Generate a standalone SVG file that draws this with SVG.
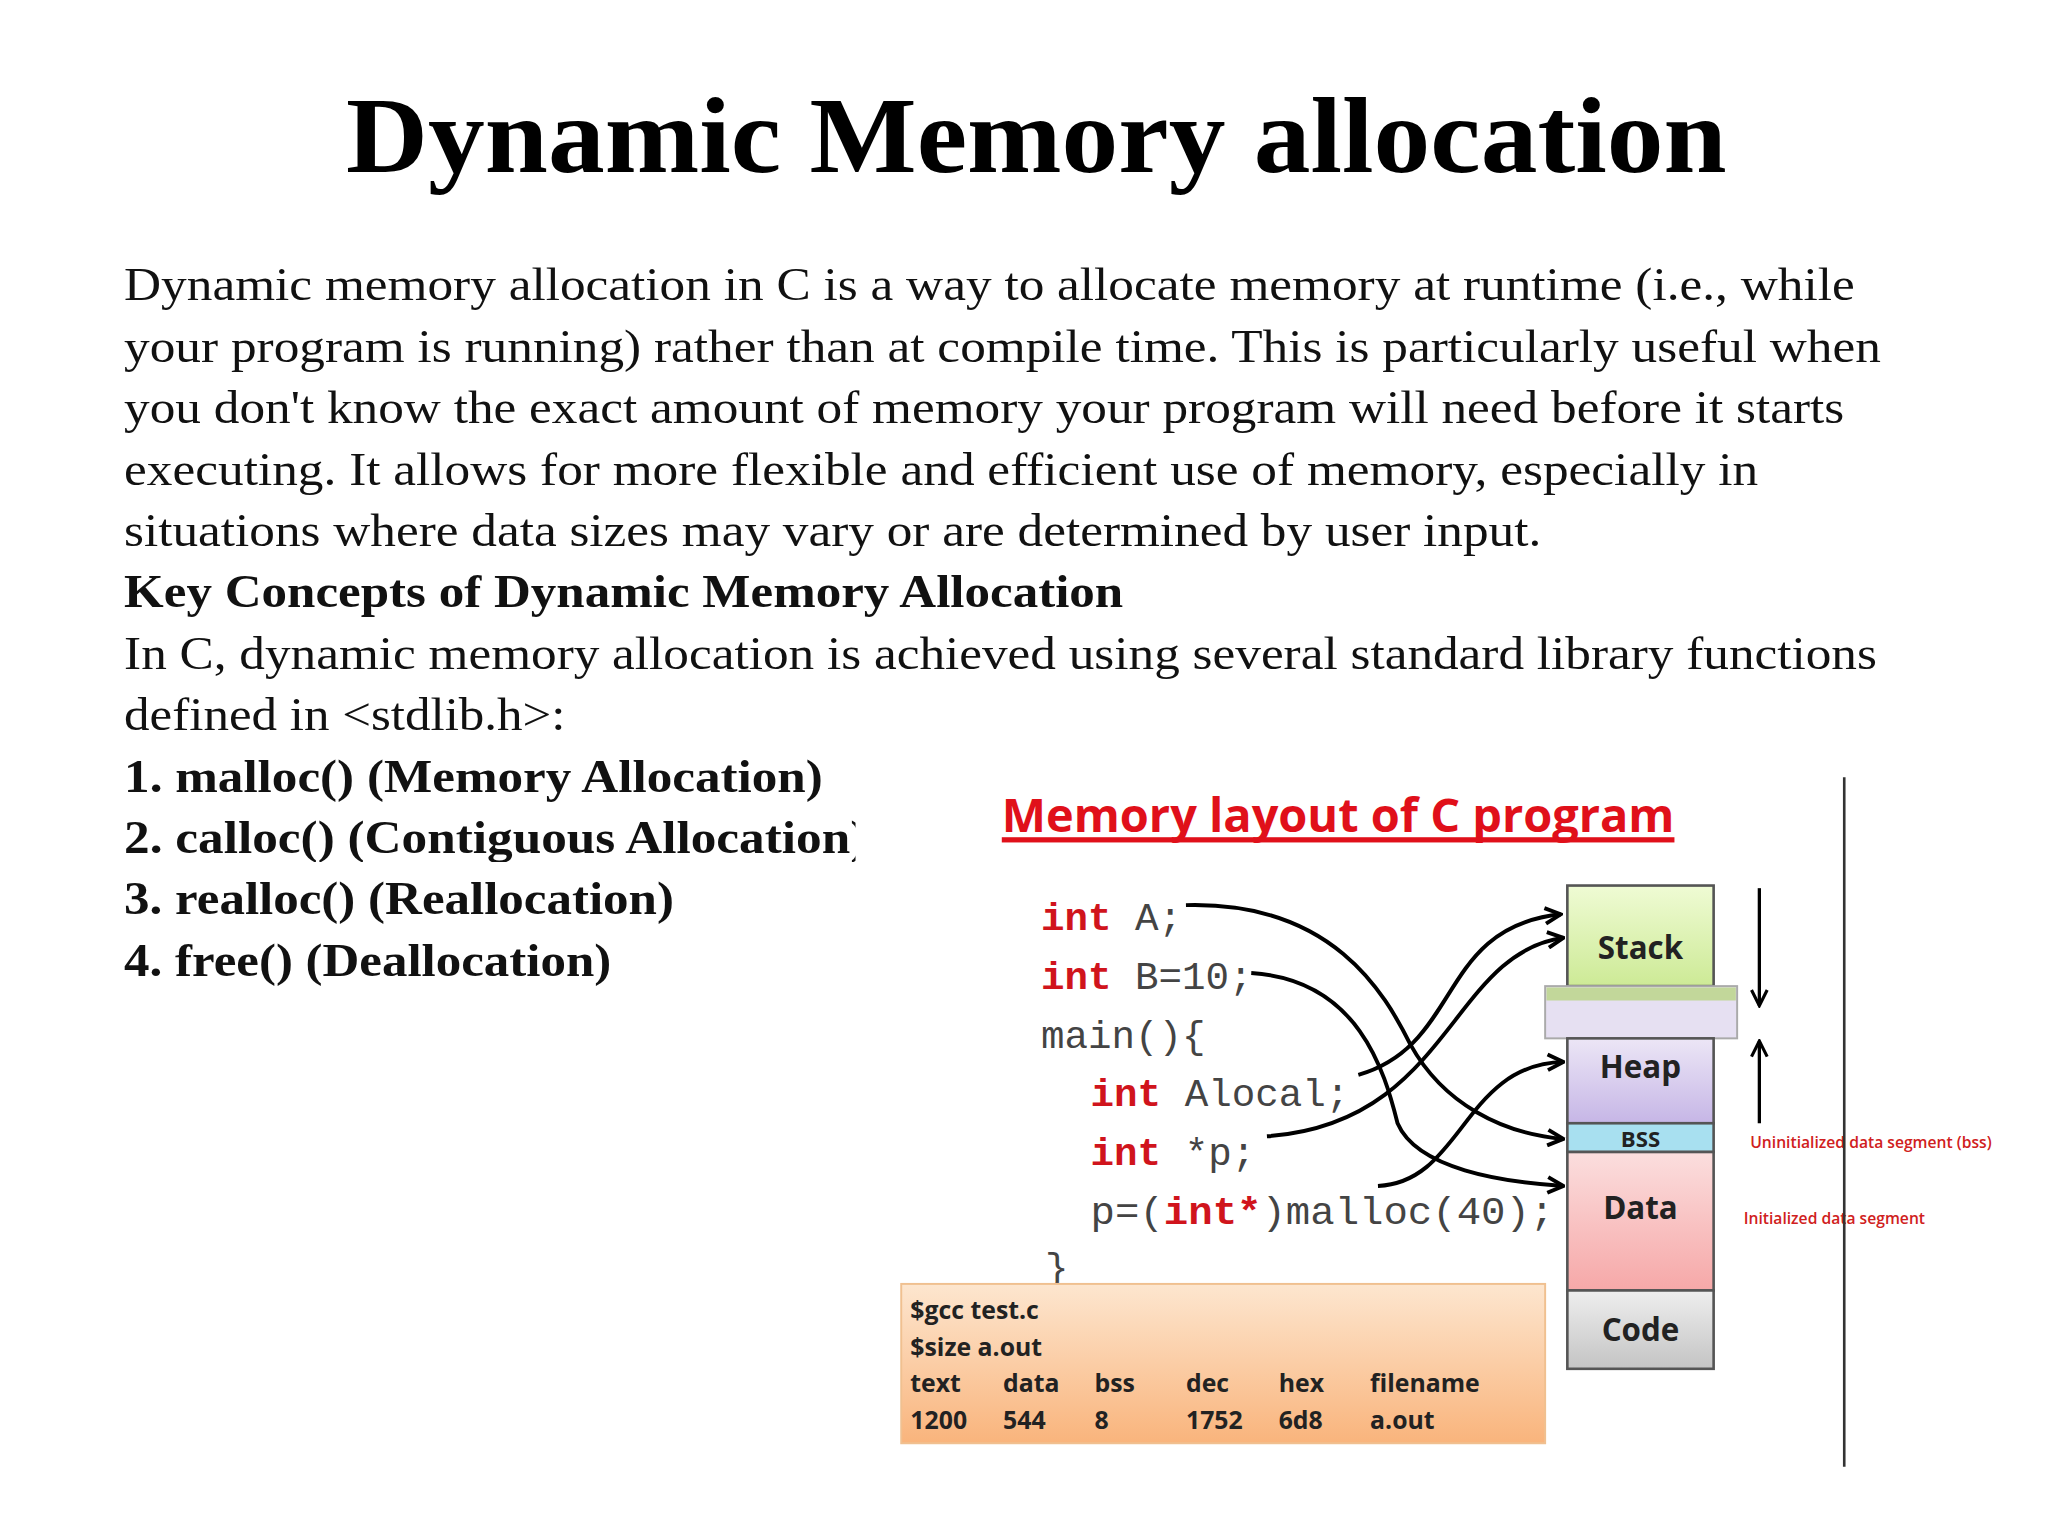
<svg xmlns="http://www.w3.org/2000/svg" width="2048" height="1536" viewBox="0 0 2048 1536">
<defs>
<style>
.t{font-family:"Liberation Serif",serif;font-size:36px;fill:#111}
.b{font-weight:bold}
.c{font-family:"Liberation Mono",monospace;font-size:30px;fill:#444}
.k{fill:#d0141c;font-weight:bold}
.s{font-family:"Open Sans","Liberation Sans",sans-serif;font-weight:bold;fill:#222}
.o{font-family:"Open Sans","Liberation Sans",sans-serif;font-size:19px;font-weight:bold;fill:#222}
.cv{fill:none;stroke:#000;stroke-width:3;marker-end:url(#ah)}
</style>
<marker id="ah" viewBox="0 0 10 10" refX="9" refY="5" markerWidth="5" markerHeight="5" orient="auto" markerUnits="strokeWidth"><path d="M1,1 L9,5 L1,9" fill="none" stroke="#000" stroke-width="2"/></marker>
<marker id="ar" viewBox="0 0 10 10" refX="9" refY="5" markerWidth="6" markerHeight="6" orient="auto" markerUnits="strokeWidth"><path d="M1,1 L9,5 L1,9" fill="none" stroke="#000" stroke-width="1.6"/></marker>
<linearGradient id="gs" x1="0" y1="0" x2="0" y2="1"><stop offset="0" stop-color="#effbd4"/><stop offset="1" stop-color="#cdea96"/></linearGradient>
<linearGradient id="gh" x1="0" y1="0" x2="0" y2="1"><stop offset="0" stop-color="#ece6f6"/><stop offset="1" stop-color="#c6b6e6"/></linearGradient>
<linearGradient id="gd" x1="0" y1="0" x2="0" y2="1"><stop offset="0" stop-color="#fbdede"/><stop offset="1" stop-color="#f6a8a8"/></linearGradient>
<linearGradient id="gc" x1="0" y1="0" x2="0" y2="1"><stop offset="0" stop-color="#eeeeee"/><stop offset="1" stop-color="#c4c4c4"/></linearGradient>
<linearGradient id="go" x1="0" y1="0" x2="0" y2="1"><stop offset="0" stop-color="#fde6cf"/><stop offset="1" stop-color="#f9b47c"/></linearGradient>
<clipPath id="cl"><rect x="0" y="600" width="655" height="60"/></clipPath>
</defs>
<rect width="2048" height="1536" fill="#fff"/>
<g transform="scale(1.30612)">
<g id="text">
<text x="265" y="132" textLength="1057" lengthAdjust="spacingAndGlyphs" style="font-family:'Liberation Serif',serif;font-size:82px;font-weight:bold">Dynamic Memory allocation</text>
<text class="t" x="95" y="230" textLength="1325" lengthAdjust="spacingAndGlyphs">Dynamic memory allocation in C is a way to allocate memory at runtime (i.e., while</text>
<text class="t" x="95" y="277" textLength="1345" lengthAdjust="spacingAndGlyphs">your program is running) rather than at compile time. This is particularly useful when</text>
<text class="t" x="95" y="324" textLength="1317" lengthAdjust="spacingAndGlyphs">you don't know the exact amount of memory your program will need before it starts</text>
<text class="t" x="95" y="371" textLength="1251" lengthAdjust="spacingAndGlyphs">executing. It allows for more flexible and efficient use of memory, especially in</text>
<text class="t" x="95" y="418" textLength="1085" lengthAdjust="spacingAndGlyphs">situations where data sizes may vary or are determined by user input.</text>
<text class="t b" x="95" y="465" textLength="765" lengthAdjust="spacingAndGlyphs">Key Concepts of Dynamic Memory Allocation</text>
<text class="t" x="95" y="512" textLength="1342" lengthAdjust="spacingAndGlyphs">In C, dynamic memory allocation is achieved using several standard library functions</text>
<text class="t" x="95" y="559" textLength="338" lengthAdjust="spacingAndGlyphs">defined in &lt;stdlib.h&gt;:</text>
<text class="t b" x="95" y="606" textLength="535" lengthAdjust="spacingAndGlyphs">1. malloc() (Memory Allocation)</text>
<text class="t b" x="95" y="653" textLength="569" lengthAdjust="spacingAndGlyphs" clip-path="url(#cl)">2. calloc() (Contiguous Allocation)</text>
<text class="t b" x="95" y="700" textLength="421" lengthAdjust="spacingAndGlyphs">3. realloc() (Reallocation)</text>
<text class="t b" x="95" y="747" textLength="373" lengthAdjust="spacingAndGlyphs">4. free() (Deallocation)</text>
</g>
<g id="diagram-title">
<text x="767" y="637" style="font-family:'Open Sans','Liberation Sans',sans-serif;font-size:36px;font-weight:bold;fill:#e0101a" textLength="515" lengthAdjust="spacingAndGlyphs">Memory layout of C program</text>
<rect x="767" y="641" width="515" height="4" fill="#e0101a"/>
</g>
<g id="code">
<text class="c" x="797" y="712"><tspan class="k">int</tspan> A;</text>
<text class="c" x="797" y="757"><tspan class="k">int</tspan> B=10;</text>
<text class="c" x="797" y="802">main(){</text>
<text class="c" x="835" y="847"><tspan class="k">int</tspan> Alocal;</text>
<text class="c" x="835" y="892"><tspan class="k">int</tspan> *p;</text>
<text class="c" x="835" y="937" textLength="355" lengthAdjust="spacingAndGlyphs">p=(<tspan class="k">int*</tspan>)malloc(40);</text>
<text class="c" x="800" y="980">}</text>
</g>
<g id="memory">
<rect x="1200" y="678" width="112" height="77" fill="url(#gs)" stroke="#555" stroke-width="2"/>
<rect x="1183" y="755" width="147" height="40" fill="#e6e0f2" stroke="#aaa" stroke-width="1.5"/>
<rect x="1184" y="756" width="145" height="10" fill="#c2d79a"/>
<rect x="1200" y="795" width="112" height="65" fill="url(#gh)" stroke="#555" stroke-width="2"/>
<rect x="1200" y="860" width="112" height="22" fill="#a8e0f0" stroke="#555" stroke-width="2"/>
<rect x="1200" y="882" width="112" height="106" fill="url(#gd)" stroke="#555" stroke-width="2"/>
<rect x="1200" y="988" width="112" height="60" fill="url(#gc)" stroke="#555" stroke-width="2"/>
<text class="s" x="1256" y="734" text-anchor="middle" font-size="24">Stack</text>
<text class="s" x="1256" y="825" text-anchor="middle" font-size="24">Heap</text>
<text class="s" x="1256" y="878" text-anchor="middle" font-size="17">BSS</text>
<text class="s" x="1256" y="933" text-anchor="middle" font-size="24">Data</text>
<text class="s" x="1256" y="1027" text-anchor="middle" font-size="24">Code</text>
<line x1="1347" y1="680" x2="1347" y2="770" stroke="#000" stroke-width="2.5" marker-end="url(#ar)"/>
<line x1="1347" y1="860" x2="1347" y2="797" stroke="#000" stroke-width="2.5" marker-end="url(#ar)"/>
<text x="1340" y="879" style="font-family:'Open Sans','Liberation Sans',sans-serif;font-size:12px;font-weight:600;fill:#d02020">Uninitialized data segment  (bss)</text>
<text x="1335" y="937" style="font-family:'Open Sans','Liberation Sans',sans-serif;font-size:12px;font-weight:600;fill:#d02020">Initialized data segment</text>
<line x1="1412" y1="595" x2="1412" y2="1123" stroke="#333" stroke-width="2"/>
</g>
<g id="size-box">
<rect x="690" y="983" width="493" height="122" fill="url(#go)" stroke="#f0c090" stroke-width="1.5"/>
<text class="o" x="697" y="1010">$gcc  test.c</text>
<text class="o" x="697" y="1038">$size a.out</text>
<text class="o" x="697" y="1066">text</text><text class="o" x="768" y="1066">data</text><text class="o" x="838" y="1066">bss</text><text class="o" x="908" y="1066">dec</text><text class="o" x="979" y="1066">hex</text><text class="o" x="1049" y="1066">filename</text>
<text class="o" x="697" y="1094">1200</text><text class="o" x="768" y="1094">544</text><text class="o" x="838" y="1094">8</text><text class="o" x="908" y="1094">1752</text><text class="o" x="979" y="1094">6d8</text><text class="o" x="1049" y="1094">a.out</text>
</g>
<g id="connectors">
<path class="cv" d="M908,693 C1020,690 1060,760 1080,800 C1105,845 1150,868 1197,872"/>
<path class="cv" d="M958,745 C1040,750 1060,820 1070,860 C1085,895 1150,905 1197,908"/>
<path class="cv" d="M1040,823 C1120,800 1100,710 1195,700"/>
<path class="cv" d="M970,870 C1110,860 1110,730 1197,718"/>
<path class="cv" d="M1055,908 C1120,905 1120,815 1197,813"/>
</g>
</g>
</svg>
